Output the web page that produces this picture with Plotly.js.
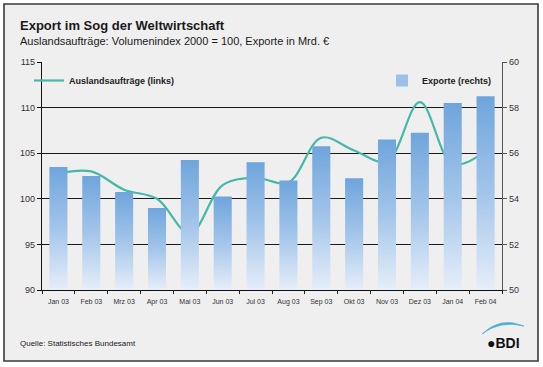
<!DOCTYPE html>
<html>
<head>
<meta charset="utf-8">
<script src="https://cdn.plot.ly/plotly-3.0.1.min.js"></script>
<style>html,body{margin:0;padding:0;background:#fff;}#chart{width:543px;height:367px;}</style>
</head>
<body>
<div id="chart"></div>
<script>
const months = ["Jan 03","Feb 03","Mrz 03","Apr 03","Mai 03","Jun 03","Jul 03","Aug 03","Sep 03","Okt 03","Nov 03","Dez 03","Jan 04","Feb 04"];
const auftraege = [102.8, 103.0, 101.0, 100.0, 96.2, 101.5, 102.3, 101.8, 106.7, 105.3, 104.1, 110.6, 103.8, 105.2];
const exporte = [55.4, 55.0, 54.3, 53.6, 55.7, 54.1, 55.6, 54.8, 56.3, 54.9, 56.6, 56.9, 58.2, 58.5];
const leftTicks = [90, 95, 100, 105, 110, 115];
const rightTicks = [50, 52, 54, 56, 58, 60];

const F = "Liberation Sans, Arial, sans-serif";
// plot area in px: x 42..502, y 62..290
const px = x => (x - 42) / 460;
const py = y => (290 - y) / 228;

const traces = [
  {type: "scatter", mode: "lines", x: months, y: auftraege, yaxis: "y",
   name: "Auslandsaufträge (links)", legend: "legend",
   line: {color: "#45b8a9", width: 2.2, shape: "spline", smoothing: 1}},
  {type: "bar", x: months, y: exporte, yaxis: "y2",
   name: "Exporte (rechts)", legend: "legend2",
   marker: {color: "#9dc0e8", line: {width: 0}}, width: 0.55}
];

const layout = {
  width: 543, height: 367,
  margin: {l: 42, r: 41, t: 62, b: 77},
  paper_bgcolor: "#ffffff", plot_bgcolor: "rgba(0,0,0,0)",
  font: {family: F, color: "#222"},
  showlegend: true,
  xaxis: {type: "category", tickson: "boundaries", ticks: "outside", ticklen: 3, tickcolor: "#222",
    showline: true, linecolor: "#111", linewidth: 1.2, showgrid: false,
    tickfont: {size: 7, family: F, color: "#333"}, ticklabelstandoff: 4},
  yaxis: {range: [90, 115], tickvals: leftTicks, ticks: "outside", ticklen: 4, tickcolor: "#111",
    showline: true, linecolor: "#111", linewidth: 1.2,
    showgrid: true, gridcolor: "#1a1a1a", gridwidth: 1.1, zeroline: false,
    tickfont: {size: 9, family: F, color: "#333"}},
  yaxis2: {range: [50, 60], tickvals: rightTicks, overlaying: "y", side: "right",
    ticks: "outside", ticklen: 4, tickcolor: "#555",
    showline: true, linecolor: "#555", linewidth: 1.2, showgrid: false, zeroline: false,
    tickfont: {size: 9, family: F, color: "#333"}},
  legend: {x: px(29), xanchor: "left", y: py(66), yanchor: "top",
    bgcolor: "rgba(0,0,0,0)", font: {size: 9, family: F, color: "#222", weight: "bold"}, itemwidth: 30},
  legend2: {x: px(497), xanchor: "right", y: py(66), yanchor: "top",
    bgcolor: "rgba(0,0,0,0)", font: {size: 9, family: F, color: "#222", weight: "bold"}, itemwidth: 30},
  shapes: [
    {type: "rect", xref: "paper", yref: "paper", layer: "below",
     x0: px(4), x1: px(538), y0: py(361), y1: py(4),
     fillcolor: "#efefef", line: {color: "#3a3a3a", width: 1.6}},
    {type: "path", xref: "paper", yref: "paper",
     path: `M ${px(482)} ${py(334)} Q ${px(500)} ${py(316)} ${px(524)} ${py(326)} Q ${px(500)} ${py(320)} ${px(482)} ${py(334)} Z`,
     fillcolor: "#4aa6c8", line: {color: "#5bb6cf", width: 0.8}}
  ],
  annotations: [
    {xref: "paper", yref: "paper", x: px(18), y: py(25), xanchor: "left", yanchor: "middle",
     text: "<b>Export im Sog der Weltwirtschaft</b>", showarrow: false,
     font: {size: 13, family: F, color: "#1a1a1a"}},
    {xref: "paper", yref: "paper", x: px(18), y: py(41), xanchor: "left", yanchor: "middle",
     text: "Auslandsaufträge: Volumenindex 2000 = 100, Exporte in Mrd. €", showarrow: false,
     font: {size: 11, family: F, color: "#1a1a1a"}},
    {xref: "paper", yref: "paper", x: px(18), y: py(343), xanchor: "left", yanchor: "middle",
     text: "Quelle: Statistisches Bundesamt", showarrow: false,
     font: {size: 8, family: F, color: "#1a1a1a"}},
    {xref: "paper", yref: "paper", x: px(503), y: py(343), xanchor: "center", yanchor: "middle",
     text: "<b>●BDI</b>", showarrow: false,
     font: {size: 14, family: F, color: "#111"}}
  ]
};

const gdiv = document.getElementById("chart");
Plotly.newPlot(gdiv, traces, layout, {staticPlot: true, displayModeBar: false});

// per-bar vertical gradient (blue at the top fading to pale at the axis)
(function applyGradient() {
  const ns = "http://www.w3.org/2000/svg";
  const svg = gdiv.querySelector("svg.main-svg");
  let defs = svg.querySelector("defs");
  if (!defs) { defs = document.createElementNS(ns, "defs"); svg.insertBefore(defs, svg.firstChild); }
  const plotH = gdiv._fullLayout._size.h;
  const stops = [["0", "#6fa5dc"], ["0.5", "#a3c5ea"], ["1", "#e6eef9"]];
  function addGrad(id, y1, y2) {
    const g = document.createElementNS(ns, "linearGradient");
    g.setAttribute("id", id);
    g.setAttribute("gradientUnits", "userSpaceOnUse");
    g.setAttribute("x1", "0"); g.setAttribute("x2", "0");
    g.setAttribute("y1", String(y1)); g.setAttribute("y2", String(y2));
    stops.forEach(([o, c]) => {
      const s = document.createElementNS(ns, "stop");
      s.setAttribute("offset", o); s.setAttribute("stop-color", c);
      g.appendChild(s);
    });
    defs.appendChild(g);
  }
  gdiv.querySelectorAll(".bars path").forEach((p, i) => {
    const bb = p.getBBox();
    const bottom = Math.min(bb.y + bb.height, plotH);
    addGrad("bg" + i, bb.y, bottom);
    p.style.fill = "url(#bg" + i + ")";
  });
  Array.from(gdiv.querySelectorAll(".legend .legendpoints path"))
    .filter(p => p.closest(".legendbar") || (p.closest(".legend") && p.closest(".traces") && !p.closest(".legendlines") && !p.classList.contains("js-line")))
    .forEach((p, i) => {
      const bb = p.getBBox();
      if (!bb || bb.height <= 0) return;
      addGrad("lg" + i, bb.y, bb.y + bb.height);
      p.style.fill = "url(#lg" + i + ")";
    });
})();
</script>
</body>
</html>
